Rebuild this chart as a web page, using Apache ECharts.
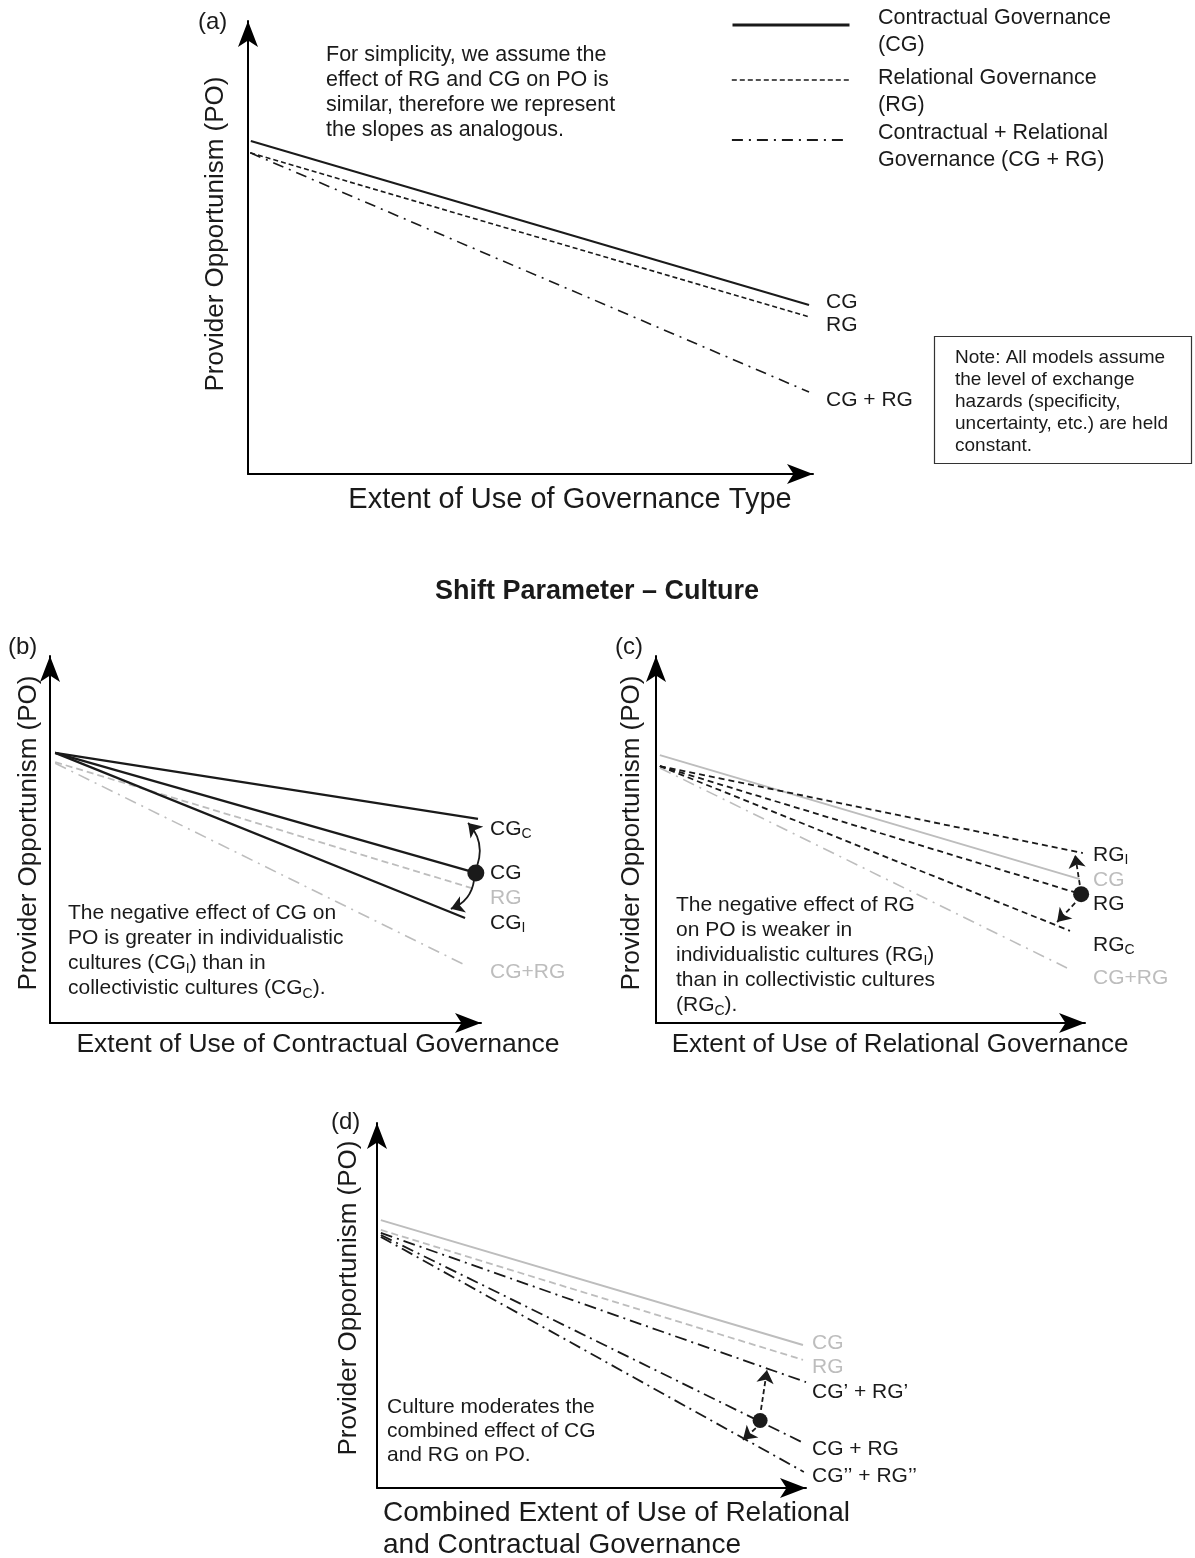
<!DOCTYPE html>
<html><head><meta charset="utf-8">
<script src="https://cdn.jsdelivr.net/npm/echarts/dist/echarts.min.js"></script>
<style>html,body{margin:0;padding:0;background:#fff}#c{width:1195px;height:1558px}</style>
</head><body><div id="c"></div><script>
const FONT = '"Liberation Sans", Arial, Helvetica, sans-serif';
const INK = '#1a1a1a';
const GRAY = '#bdbdbd';

// ---- Panel (a) ----
const aSeriesNames = ['Contractual Governance (CG)', 'Relational Governance (RG)', 'Contractual + Relational Governance (CG + RG)'];
const aLegendText = ['Contractual Governance\n(CG)', 'Relational Governance\n(RG)', 'Contractual + Relational\nGovernance (CG + RG)'];
const aCG = [[0.5, 73.5], [99.3, 37.3]];
const aRG = [[0.4, 70.9], [99.3, 34.7]];
const aCGRG = [[0.4, 70.9], [99.3, 18.1]];

// ---- Panel (b) ----
const bCGc = [[1.2, 73.6], [99.3, 55.6]];
const bCG = [[1.2, 73.6], [98.8, 40.9]];
const bCGi = [[1.2, 73.6], [96.3, 28.6]];
const bRG = [[1.2, 71.1], [98.6, 36.5]];
const bCGRG = [[1.2, 70.8], [96.3, 15.8]];
const bDot = [[98.8, 40.9]];
const bArrowUp = [[99.1, 42.8], [97.0, 54.5]];
const bArrowDown = [[98.4, 39.0], [93.0, 31.1]];

// ---- Panel (c) ----
const cCG = [[0.9, 73.0], [98.8, 39.2]];
const cRGi = [[0.9, 70.0], [99.5, 46.3]];
const cRG = [[0.9, 70.0], [99.1, 35.1]];
const cRGc = [[0.9, 70.0], [96.5, 25.1]];
const cCGRG = [[0.9, 69.5], [95.8, 15.0]];
const cDot = [[99.1, 35.1]];
const cArrowUp = [[98.8, 37.6], [97.7, 45.8]];
const cArrowDown = [[97.7, 32.7], [93.5, 27.5]];

// ---- Panel (d) ----
const dCG = [[0.9, 73.4], [99.3, 39.2]];
const dRG = [[0.9, 70.7], [99.3, 35.1]];
const dCGRG1 = [[0.9, 69.9], [100, 29.0]];
const dCGRG = [[0.9, 69.3], [99.5, 12.3]];
const dCGRG2 = [[0.9, 68.8], [99.5, 4.4]];
const dDot = [[89.3, 18.5]];
const dArrowUp = [[89.5, 21.4], [90.9, 32.3]];
const dArrowDown = [[88.3, 16.4], [85.3, 13.2]];

const DASH_A = [5, 3];
const DASHDOT_A = [11, 6, 2, 6];
const DASH_GRAY = [7, 4];
const DASHDOT_GRAY = [12, 6, 2, 6];
const DASH_C = [6, 4];
const DASHDOT_D = [12, 5, 2, 5];

const grids = [
  {left: 248, top: 21, width: 565, height: 453},
  {left: 50, top: 656, width: 431, height: 367},
  {left: 656, top: 656, width: 429, height: 367},
  {left: 377, top: 1123, width: 429, height: 365}
].map(g => Object.assign({outerBoundsMode: 'none', containLabel: false}, g));

function axis(i) {
  return {
    gridIndex: i, type: 'value', min: 0, max: 100,
    axisLine: {show: true, onZero: false, symbol: ['none', 'arrow'], symbolSize: [15, 26], lineStyle: {color: '#000', width: 2}},
    axisTick: {show: false}, axisLabel: {show: false}, splitLine: {show: false}
  };
}

function line(name, g, data, color, width, type, z) {
  return {type: 'line', name, xAxisIndex: g, yAxisIndex: g, data, symbol: 'none', showSymbol: false,
    lineStyle: {color, width, type}, itemStyle: {color}, silent: true, animation: false, z: z || 2};
}
function arrow(g, coords, type, curveness) {
  return {type: 'lines', coordinateSystem: 'cartesian2d', xAxisIndex: g, yAxisIndex: g,
    data: [{coords}], symbol: ['none', 'arrow'], symbolSize: 13,
    lineStyle: {color: INK, width: 1.8, type, curveness, opacity: 1}, silent: true, animation: false, z: 5};
}
function dot(g, data, size) {
  return {type: 'scatter', xAxisIndex: g, yAxisIndex: g, data, symbolSize: size,
    itemStyle: {color: INK, opacity: 1}, silent: true, animation: false, z: 6};
}

const series = [
  line(aSeriesNames[0], 0, aCG, INK, 2, 'solid', 3),
  line(aSeriesNames[1], 0, aRG, INK, 1.6, DASH_A, 3),
  line(aSeriesNames[2], 0, aCGRG, INK, 1.6, DASHDOT_A, 3),

  line('b-RG', 1, bRG, GRAY, 1.8, DASH_GRAY, 1),
  line('b-CG+RG', 1, bCGRG, GRAY, 1.6, DASHDOT_GRAY, 1),
  line('b-CGc', 1, bCGc, INK, 2.2, 'solid', 3),
  line('b-CG', 1, bCG, INK, 2.2, 'solid', 3),
  line('b-CGi', 1, bCGi, INK, 2.2, 'solid', 3),
  arrow(1, bArrowUp, 'solid', -0.3),
  arrow(1, bArrowDown, 'solid', 0.3),
  dot(1, bDot, 17),

  line('c-CG', 2, cCG, GRAY, 2, 'solid', 1),
  line('c-CG+RG', 2, cCGRG, GRAY, 1.6, DASHDOT_GRAY, 1),
  line('c-RGi', 2, cRGi, INK, 1.8, DASH_C, 3),
  line('c-RG', 2, cRG, INK, 1.8, DASH_C, 3),
  line('c-RGc', 2, cRGc, INK, 1.8, DASH_C, 3),
  arrow(2, cArrowUp, [5, 3], 0),
  arrow(2, cArrowDown, [5, 3], 0),
  dot(2, cDot, 16),

  line('d-CG', 3, dCG, GRAY, 2, 'solid', 1),
  line('d-RG', 3, dRG, GRAY, 1.8, DASH_GRAY, 1),
  line('d-CG1+RG1', 3, dCGRG1, INK, 1.8, DASHDOT_D, 3),
  line('d-CG+RG', 3, dCGRG, INK, 1.8, DASHDOT_D, 3),
  line('d-CG2+RG2', 3, dCGRG2, INK, 1.8, DASHDOT_D, 3),
  arrow(3, dArrowUp, [5, 3], 0),
  arrow(3, dArrowDown, [5, 3], 0),
  dot(3, dDot, 15)
];

// legend: icons from the legend component, two-line labels as text beside them
const legendIconTops = [18, 73, 133];
const legendLineWidths = [3, 1.6, 1.8];
const legend = aSeriesNames.map((n, i) => ({
  left: 731, top: legendIconTops[i], padding: 0, orient: 'horizontal',
  itemWidth: 117, itemHeight: 14, data: [n], selectedMode: false,
  formatter: () => '',
  itemStyle: {opacity: 0, borderWidth: 0},
  lineStyle: {width: legendLineWidths[i]},
  textStyle: {fontFamily: FONT, fontSize: 1, color: INK}
}));
const legendTextTops = [4.5, 64.5, 119.5];

const RICH = {
  n: {fontFamily: FONT, fontSize: 21, color: INK, lineHeight: 25},
  s: {fontFamily: FONT, fontSize: 14, color: INK, lineHeight: 21, verticalAlign: 'bottom'}
};

function txt(x, y, text, o) {
  o = o || {};
  return {type: 'text', x, y, rotation: o.rot || 0, silent: true, z: 10,
    style: {text, fill: o.color || INK, fontFamily: FONT, fontSize: o.size || 21,
      fontWeight: o.weight || 'normal', align: o.align || 'left', verticalAlign: o.va || 'middle',
      lineHeight: o.lh || 25, rich: RICH}};
}

const graphic = [
  // panel (a)
  txt(198, 22, '(a)', {size: 24}),
  txt(326, 42.5, 'For simplicity, we assume the\neffect of RG and CG on PO is\nsimilar, therefore we represent\nthe slopes as analogous.', {va: 'top', lh: 25, size: 21.5}),
  txt(826, 302, 'CG'), txt(826, 325, 'RG'), txt(826, 400, 'CG + RG'),
  txt(216, 234, 'Provider Opportunism (PO)', {size: 26, align: 'center', rot: Math.PI / 2}),
  txt(570, 500, 'Extent of Use of Governance Type', {size: 29, align: 'center'}),
  {type: 'rect', shape: {x: 934.5, y: 336.5, width: 257, height: 127}, style: {fill: '#fff', stroke: '#333', lineWidth: 1.2}, silent: true, z: 9},
  txt(955, 347, 'Note: All models assume\nthe level of exchange\nhazards (specificity,\nuncertainty, etc.) are held\nconstant.', {size: 19, va: 'top', lh: 22}),
  ...aLegendText.map((t, i) => txt(878, legendTextTops[i], t, {va: 'top', lh: 27, size: 21.5})),

  txt(597, 592, 'Shift Parameter – Culture', {size: 27, weight: 'bold', align: 'center'}),

  // panel (b)
  txt(8, 647, '(b)', {size: 24}),
  txt(68, 901, '{n|The negative effect of CG on}\n{n|PO is greater in individualistic}\n{n|cultures (CG}{s|I}{n|) than in}\n{n|collectivistic cultures (CG}{s|C}{n|).}', {va: 'top'}),
  txt(490, 829, '{n|CG}{s|C}'),
  txt(490, 873, 'CG'),
  txt(490, 898, 'RG', {color: GRAY}),
  txt(490, 923, '{n|CG}{s|I}'),
  txt(490, 972, 'CG+RG', {color: GRAY}),
  txt(29, 833, 'Provider Opportunism (PO)', {size: 26, align: 'center', rot: Math.PI / 2}),
  txt(318, 1045, 'Extent of Use of Contractual Governance', {size: 26.5, align: 'center'}),

  // panel (c)
  txt(615, 647, '(c)', {size: 24}),
  txt(676, 893, '{n|The negative effect of RG}\n{n|on PO is weaker in}\n{n|individualistic cultures (RG}{s|I}{n|)}\n{n|than in collectivistic cultures}\n{n|(RG}{s|C}{n|).}', {va: 'top'}),
  txt(1093, 855, '{n|RG}{s|I}'),
  txt(1093, 880, 'CG', {color: GRAY}),
  txt(1093, 904, 'RG'),
  txt(1093, 945, '{n|RG}{s|C}'),
  txt(1093, 978, 'CG+RG', {color: GRAY}),
  txt(632, 833, 'Provider Opportunism (PO)', {size: 26, align: 'center', rot: Math.PI / 2}),
  txt(900, 1045, 'Extent of Use of Relational Governance', {size: 26, align: 'center'}),

  // panel (d)
  txt(331, 1122, '(d)', {size: 24}),
  txt(387, 1395, 'Culture moderates the\ncombined effect of CG\nand RG on PO.', {va: 'top', lh: 24}),
  txt(812, 1343, 'CG', {color: GRAY}),
  txt(812, 1367, 'RG', {color: GRAY}),
  txt(812, 1392, 'CG’ + RG’'),
  txt(812, 1449, 'CG + RG'),
  txt(812, 1476, 'CG’’ + RG’’'),
  txt(349, 1298, 'Provider Opportunism (PO)', {size: 26, align: 'center', rot: Math.PI / 2}),
  txt(383, 1497, 'Combined Extent of Use of Relational\nand Contractual Governance', {size: 28, va: 'top', lh: 32})
];

const chart = echarts.init(document.getElementById('c'), null, {renderer: 'canvas'});
chart.setOption({
  backgroundColor: '#fff',
  animation: false,
  grid: grids,
  xAxis: [0, 1, 2, 3].map(axis),
  yAxis: [0, 1, 2, 3].map(axis),
  legend,
  series,
  graphic
});
</script></body></html>
